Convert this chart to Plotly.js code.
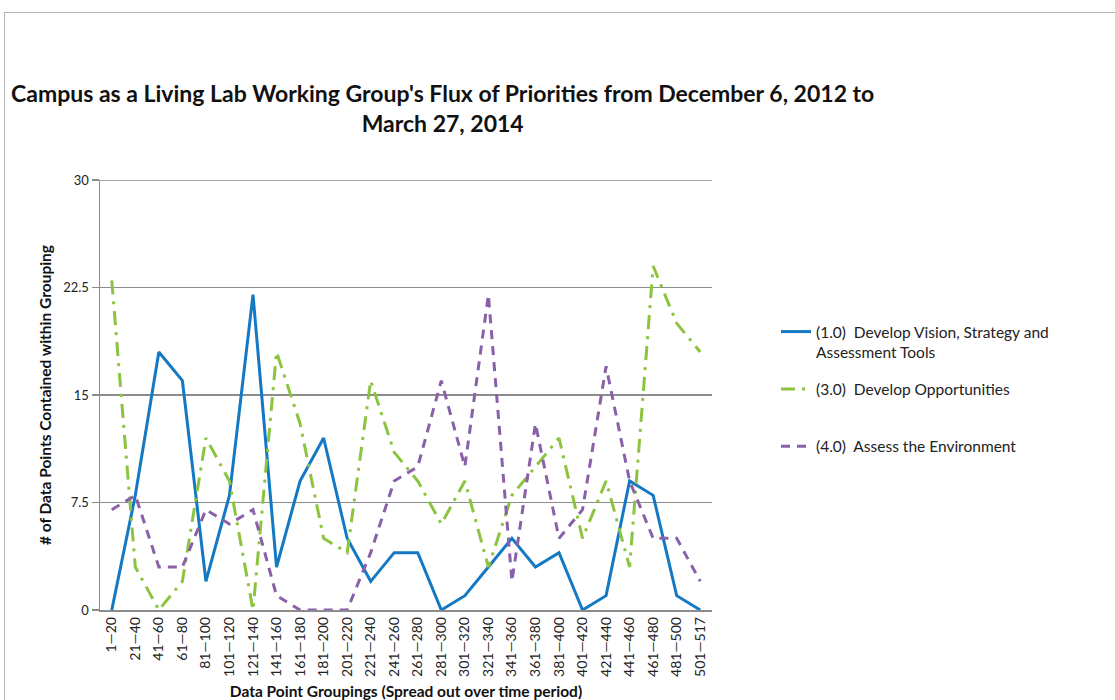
<!DOCTYPE html>
<html>
<head>
<meta charset="utf-8">
<script src="https://cdn.plot.ly/plotly-3.0.1.min.js"></script>
<style>
  html, body { margin: 0; padding: 0; background: #fff; }
  #wrap { position: relative; width: 1115px; height: 700px; overflow: hidden; }
  #chart { position: absolute; left: 0; top: 0; width: 1115px; height: 700px; }
  #frame { position: absolute; left: 4px; top: 12px; width: 1200px; height: 800px;
           border-left: 1.5px solid #b5b5b5; border-top: 1.5px solid #b5b5b5; pointer-events: none; }
</style>
</head>
<body>
<div id="wrap">
  <div id="chart"></div>
  <div id="frame"></div>
</div>
<script>
const categories = ["1\u201420","21\u201440","41\u201460","61\u201480","81\u2014100","101\u2014120","121\u2014140",
  "141\u2014160","161\u2014180","181\u2014200","201\u2014220","221\u2014240","241\u2014260","261\u2014280",
  "281\u2014300","301\u2014320","321\u2014340","341\u2014360","361\u2014380","381\u2014400","401\u2014420",
  "421\u2014440","441\u2014460","461\u2014480","481\u2014500","501\u2014517"];
const visionStrategy = [0,8,18,16,2,8,22,3,9,12,5,2,4,4,0,1,3,5,3,4,0,1,9,8,1,0];
const opportunities  = [23,3,0,2,12,9,0,18,13,5,4,16,11,9,6,9,3,8,10,12,5,9,3,24,20,18];
const environment    = [7,8,3,3,7,6,7,1,0,0,0,4,9,10,16,10,22,2,13,5,7,17,9,5,5,2];
const seriesNames = [
  "(1.0)  Develop Vision, Strategy and<br>Assessment Tools",
  "(3.0)  Develop Opportunities<br>\u00a0",
  "(4.0)  Assess the Environment<br>\u00a0"
];
const yTicks = [0, 7.5, 15, 22.5, 30];

const font = "Lato, 'Open Sans', sans-serif";
const gridCol = "#8c8c8c";
const traces = [
  {x: categories, y: visionStrategy, name: seriesNames[0], type: "scatter", mode: "lines",
   line: {color: "#1479C4", width: 3}, legendgroup: "a"},
  {x: categories, y: opportunities, name: seriesNames[1], type: "scatter", mode: "lines",
   line: {color: "#8CC43F", width: 3, dash: "14px,7px,3px,7px"}, legendgroup: "b"},
  {x: categories, y: environment, name: seriesNames[2], type: "scatter", mode: "lines",
   line: {color: "#8A61A8", width: 3, dash: "9px,7px"}, legendgroup: "c"}
];
const layout = {
  width: 1115, height: 700,
  paper_bgcolor: "rgba(0,0,0,0)", plot_bgcolor: "#fff",
  margin: {l: 100, r: 403, t: 180, b: 90},
  font: {family: font, color: "#222"},
  title: {
    text: "<b>Campus as a Living Lab Working Group's Flux of Priorities from December 6, 2012 to<br>March 27, 2014</b>",
    font: {family: font, size: 23, color: "#111"},
    x: 0.397, xref: "container", xanchor: "center",
    y: 1 - 102 / 700, yref: "container", yanchor: "middle"
  },
  xaxis: {
    type: "category", range: [-0.5, 25.5], tickangle: -90,
    tickfont: {size: 14, color: "#222"},
    showgrid: false, showline: true, linecolor: gridCol, linewidth: 1.5,
    ticks: "", automargin: false,
    title: {text: "<b>Data Point Groupings (Spread out over time period)</b>",
            font: {size: 15.5, color: "#111"}, standoff: 18}
  },
  yaxis: {
    range: [0, 30], tickvals: yTicks, ticktext: yTicks.map(String),
    tickfont: {size: 13, color: "#222"},
    showgrid: true, gridcolor: gridCol, gridwidth: 1.5,
    showline: true, linecolor: gridCol, linewidth: 1.5,
    ticks: "outside", ticklen: 7, tickcolor: gridCol, tickwidth: 1.5,
    zeroline: false, automargin: false,
    title: {text: "<b># of Data Points Contained within Grouping</b>",
            font: {size: 15.5, color: "#111"}, standoff: 8}
  },
  shapes: [
    {type: "line", xref: "paper", yref: "y", x0: 0, x1: 1, y0: 30, y1: 30,
     line: {color: gridCol, width: 1.5}}
  ],
  legend: {
    x: 776 / 1115, xref: "container", xanchor: "left",
    y: 1 - 315 / 700, yref: "container", yanchor: "top",
    font: {size: 15.5, color: "#222"}, valign: "top",
    tracegroupgap: 14, bgcolor: "rgba(0,0,0,0)"
  },
  showlegend: true
};
Plotly.newPlot("chart", traces, layout, {displayModeBar: false, staticPlot: true});
</script>
</body>
</html>
